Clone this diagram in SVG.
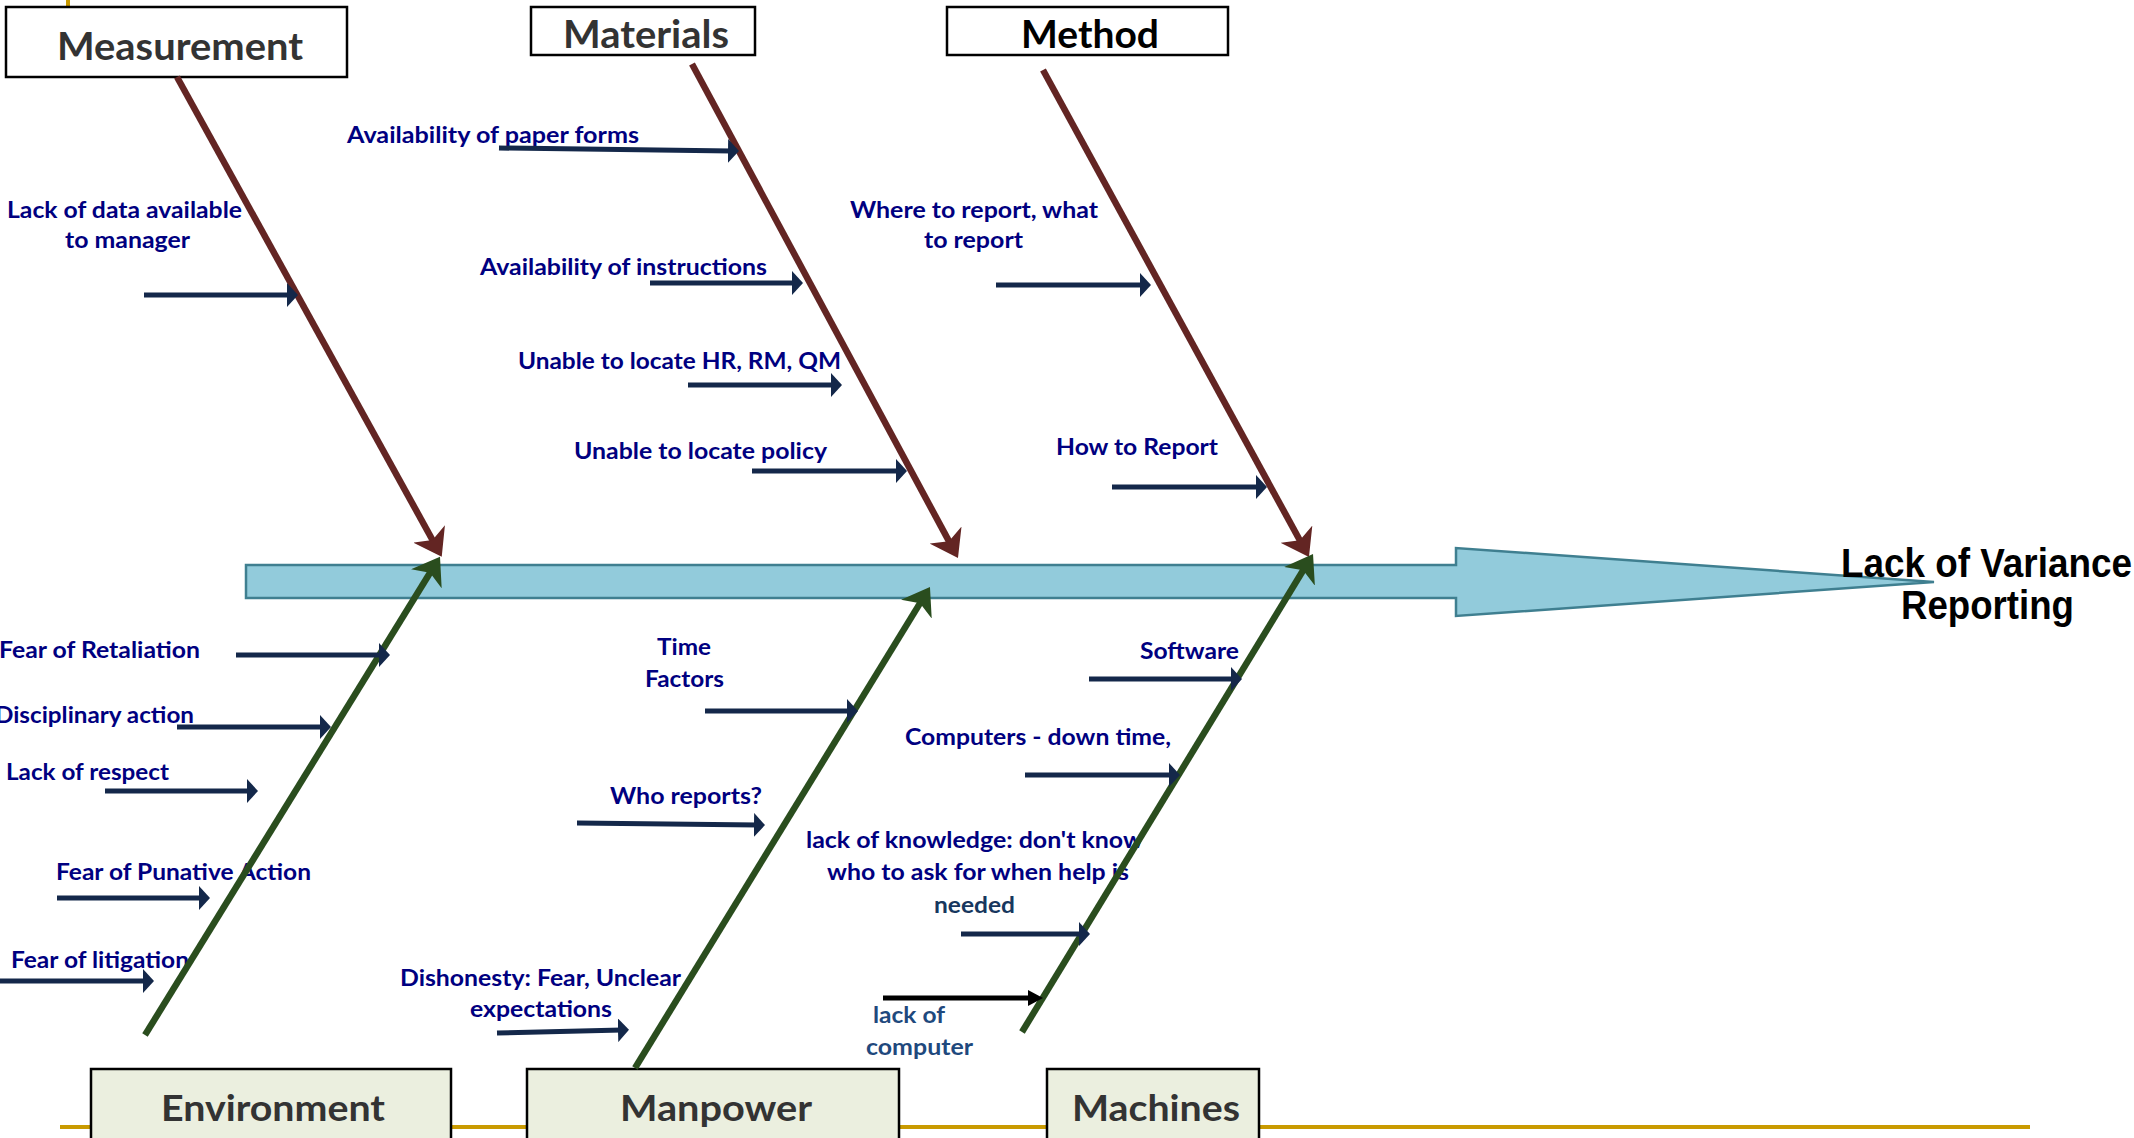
<svg xmlns="http://www.w3.org/2000/svg" width="2134" height="1138" viewBox="0 0 2134 1138">
<style>
.box{fill:#ffffff;stroke:#000000;stroke-width:2.5}
.boxb{fill:#ebefdf;stroke:#000000;stroke-width:2.5}
.ttl{font-family:Lato,"Open Sans","Liberation Sans",sans-serif;font-weight:bold;fill:#333333;font-size:39px}
.ttlb{font-family:Lato,"Open Sans","Liberation Sans",sans-serif;font-weight:bold;fill:#333333;font-size:36px}
.lbl{font-family:Lato,"Open Sans","Liberation Sans",sans-serif;font-weight:bold;fill:#000080;font-size:22px}
.red{stroke:#632523;stroke-width:6.5;fill:none}
.grn{stroke:#2a4d1e;stroke-width:6.5;fill:none}
.sub{stroke:#14284a;stroke-width:5;fill:none}
.head{font-family:"Liberation Sans",Arial,sans-serif;font-weight:bold;fill:#000000;font-size:41px}
</style>
<defs>
<marker id="mRed" markerUnits="userSpaceOnUse" viewBox="0 0 26 36" markerWidth="26" markerHeight="36" refX="10" refY="18" orient="auto"><path d="M0,0 L26,18 L0,36 L7,18 Z" fill="#632523"/></marker>
<marker id="mGrn" markerUnits="userSpaceOnUse" viewBox="0 0 26 36" markerWidth="26" markerHeight="36" refX="10" refY="18" orient="auto"><path d="M0,0 L26,18 L0,36 L7,18 Z" fill="#2a4d1e"/></marker>
<marker id="mSub" markerUnits="userSpaceOnUse" viewBox="0 0 11 24" markerWidth="11" markerHeight="24" refX="4" refY="12" orient="auto"><path d="M0,0 L11,12 L0,24 Z" fill="#14284a"/></marker>
<marker id="mBlk" markerUnits="userSpaceOnUse" viewBox="0 0 15 16" markerWidth="15" markerHeight="16" refX="6" refY="8" orient="auto"><path d="M0,0 L15,8 L0,16 Z" fill="#000000"/></marker>
</defs>
<rect width="2134" height="1138" fill="#ffffff"/>
<line x1="68" y1="0" x2="68" y2="9" stroke="#c99a00" stroke-width="4"/>
<line x1="60" y1="1127" x2="2030" y2="1127" stroke="#c99a00" stroke-width="4"/>

<g id="spine">
<path d="M246,565 L1456,565 L1456,548 L1934,582 L1456,616 L1456,598 L246,598 Z" fill="#92cbdb" stroke="#3f7f90" stroke-width="2.5"/>
</g>

<g id="effect">
<text class="head" x="1841" y="577" textLength="291" lengthAdjust="spacingAndGlyphs">Lack of Variance</text>
<text class="head" x="1901" y="619" textLength="173" lengthAdjust="spacingAndGlyphs">Reporting</text>
</g>

<g id="measurement">
<rect class="box" x="6" y="7" width="341" height="70"/>
<text class="ttl" x="57" y="60" textLength="246" lengthAdjust="spacingAndGlyphs">Measurement</text>
</g>
<g id="materials">
<rect class="box" x="531" y="7" width="224" height="48"/>
<text class="ttl" x="563" y="48" textLength="166" lengthAdjust="spacingAndGlyphs">Materials</text>
</g>
<g id="method">
<rect class="box" x="947" y="7" width="281" height="48"/>
<text class="ttl" x="1021" y="48" textLength="138" lengthAdjust="spacingAndGlyphs" style="fill:#000000">Method</text>
</g>
<g id="environment">
<rect class="boxb" x="91" y="1069" width="360" height="80"/>
<text class="ttlb" x="161" y="1121" textLength="224" lengthAdjust="spacingAndGlyphs">Environment</text>
</g>
<g id="manpower">
<rect class="boxb" x="527" y="1069" width="372" height="80"/>
<text class="ttlb" x="620" y="1121" textLength="192" lengthAdjust="spacingAndGlyphs">Manpower</text>
</g>
<g id="machines">
<rect class="boxb" x="1047" y="1069" width="212" height="80"/>
<text class="ttlb" x="1072" y="1121" textLength="168" lengthAdjust="spacingAndGlyphs">Machines</text>
</g>

<g id="labels">
<text class="lbl" x="7" y="218" textLength="235" lengthAdjust="spacingAndGlyphs">Lack of data available</text>
<text class="lbl" x="65" y="248" textLength="125" lengthAdjust="spacingAndGlyphs">to manager</text>
<text class="lbl" x="347" y="143" textLength="292" lengthAdjust="spacingAndGlyphs">Availability of paper forms</text>
<text class="lbl" x="480" y="275" textLength="287" lengthAdjust="spacingAndGlyphs">Availability of instructions</text>
<text class="lbl" x="518" y="369" textLength="323" lengthAdjust="spacingAndGlyphs">Unable to locate HR, RM, QM</text>
<text class="lbl" x="574" y="459" textLength="253" lengthAdjust="spacingAndGlyphs">Unable to locate policy</text>
<text class="lbl" x="850" y="218" textLength="248" lengthAdjust="spacingAndGlyphs">Where to report, what</text>
<text class="lbl" x="924" y="248" textLength="99" lengthAdjust="spacingAndGlyphs">to report</text>
<text class="lbl" x="1056" y="455" textLength="162" lengthAdjust="spacingAndGlyphs">How to Report</text>
<text class="lbl" x="-1" y="658" textLength="201" lengthAdjust="spacingAndGlyphs">Fear of Retaliation</text>
<text class="lbl" x="-5" y="723" textLength="199" lengthAdjust="spacingAndGlyphs">Disciplinary action</text>
<text class="lbl" x="6" y="780" textLength="163" lengthAdjust="spacingAndGlyphs">Lack of respect</text>
<text class="lbl" x="56" y="880" textLength="255" lengthAdjust="spacingAndGlyphs">Fear of Punative Action</text>
<text class="lbl" x="11" y="968" textLength="178" lengthAdjust="spacingAndGlyphs">Fear of litigation</text>
<text class="lbl" x="657" y="655" textLength="54" lengthAdjust="spacingAndGlyphs">Time</text>
<text class="lbl" x="645" y="687" textLength="79" lengthAdjust="spacingAndGlyphs">Factors</text>
<text class="lbl" x="610" y="804" textLength="152" lengthAdjust="spacingAndGlyphs">Who reports?</text>
<text class="lbl" x="400" y="986" textLength="281" lengthAdjust="spacingAndGlyphs">Dishonesty: Fear, Unclear</text>
<text class="lbl" x="470" y="1017" textLength="142" lengthAdjust="spacingAndGlyphs">expectations</text>
<text class="lbl" x="1140" y="659" textLength="99" lengthAdjust="spacingAndGlyphs">Software</text>
<text class="lbl" x="905" y="745" textLength="266" lengthAdjust="spacingAndGlyphs">Computers - down time,</text>
<text class="lbl" x="806" y="848" textLength="337" lengthAdjust="spacingAndGlyphs">lack of knowledge: don't know</text>
<text class="lbl" x="827" y="880" textLength="302" lengthAdjust="spacingAndGlyphs">who to ask for when help is</text>
<text class="lbl" x="934" y="913" textLength="81" lengthAdjust="spacingAndGlyphs" style="fill:#17375e">needed</text>
<text class="lbl" x="873" y="1023" textLength="72" lengthAdjust="spacingAndGlyphs" style="fill:#1f497d">lack of</text>
<text class="lbl" x="866" y="1055" textLength="107" lengthAdjust="spacingAndGlyphs" style="fill:#1f497d">computer</text>
</g>

<g id="connectors">
<line class="red" x1="177" y1="77" x2="434" y2="542.7" marker-end="url(#mRed)"/>
<line class="red" x1="692" y1="64" x2="950.4" y2="543.9" marker-end="url(#mRed)"/>
<line class="red" x1="1043" y1="70" x2="1301.3" y2="543" marker-end="url(#mRed)"/>
<line class="grn" x1="145" y1="1035" x2="431.6" y2="570.3" marker-end="url(#mGrn)"/>
<line class="grn" x1="635" y1="1068" x2="921.6" y2="600.6" marker-end="url(#mGrn)"/>
<line class="grn" x1="1022" y1="1032" x2="1304.7" y2="567.7" marker-end="url(#mGrn)"/>
<line class="sub" x1="144" y1="295" x2="291" y2="295" marker-end="url(#mSub)"/>
<line class="sub" x1="499" y1="148" x2="732" y2="151" marker-end="url(#mSub)"/>
<line class="sub" x1="650" y1="283" x2="796" y2="283" marker-end="url(#mSub)"/>
<line class="sub" x1="688" y1="385" x2="835" y2="385" marker-end="url(#mSub)"/>
<line class="sub" x1="752" y1="471" x2="900" y2="471" marker-end="url(#mSub)"/>
<line class="sub" x1="996" y1="285" x2="1144" y2="285" marker-end="url(#mSub)"/>
<line class="sub" x1="1112" y1="487" x2="1260" y2="487" marker-end="url(#mSub)"/>
<line class="sub" x1="236" y1="655" x2="383" y2="655" marker-end="url(#mSub)"/>
<line class="sub" x1="177" y1="727" x2="324" y2="727" marker-end="url(#mSub)"/>
<line class="sub" x1="105" y1="791" x2="251" y2="791" marker-end="url(#mSub)"/>
<line class="sub" x1="57" y1="898" x2="203" y2="898" marker-end="url(#mSub)"/>
<line class="sub" x1="0" y1="981" x2="147" y2="981" marker-end="url(#mSub)"/>
<line class="sub" x1="705" y1="711" x2="851" y2="711" marker-end="url(#mSub)"/>
<line class="sub" x1="577" y1="823" x2="758" y2="825" marker-end="url(#mSub)"/>
<line class="sub" x1="497" y1="1033" x2="622" y2="1030" marker-end="url(#mSub)"/>
<line class="sub" x1="1089" y1="679" x2="1235" y2="679" marker-end="url(#mSub)"/>
<line class="sub" x1="1025" y1="775" x2="1173" y2="775" marker-end="url(#mSub)"/>
<line class="sub" x1="961" y1="934" x2="1083" y2="934" marker-end="url(#mSub)"/>
<line x1="883" y1="998" x2="1034" y2="998" stroke="#000000" stroke-width="5" marker-end="url(#mBlk)"/>
</g>
</svg>
